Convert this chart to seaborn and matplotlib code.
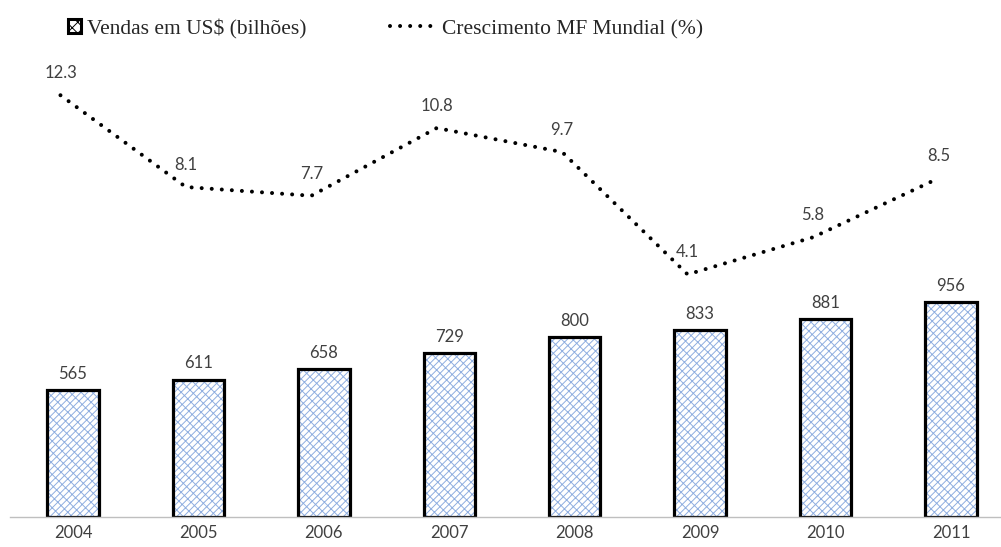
import numpy as np
import pandas as pd
import matplotlib
matplotlib.use("Agg")
import matplotlib.pyplot as plt
import seaborn as sns
from matplotlib.patches import Patch
from matplotlib.lines import Line2D

years = ["2004", "2005", "2006", "2007", "2008", "2009", "2010", "2011"]
sales = [565, 611, 658, 729, 800, 833, 881, 956]
growth = [12.3, 8.1, 7.7, 10.8, 9.7, 4.1, 5.8, 8.5]
legend_sales = "Vendas em US$ (bilhões)"
legend_growth = "Crescimento MF Mundial (%)"

sns.set_theme(style="white")
plt.rcParams["font.family"] = ["Lato", "DejaVu Sans"]
plt.rcParams["hatch.linewidth"] = 0.7

W, H = 1001, 547
fig = plt.figure(figsize=(W / 100, H / 100), dpi=100)
left_px, right_px = 10.3, 1013.7
top_px, bot_px = 60, 517
ax = fig.add_axes([left_px / W, 1 - bot_px / H, (right_px - left_px) / W, (bot_px - top_px) / H])

df = pd.DataFrame({"year": years, "sales": sales})
hatch_col = "#8FAEE0"
sns.barplot(data=df, x="year", y="sales", ax=ax, color="white", saturation=1,
            width=0.41, edgecolor=hatch_col, linewidth=0, hatch="/" * 5 + "\\" * 3)
sns.barplot(data=df, x="year", y="sales", ax=ax, fill=False, saturation=1,
            width=0.41, edgecolor="black", linewidth=2.3, color="black")

ax.set_xlim(-0.5, 7.5)
px_per_unit = 0.2245
ax.set_ylim(0, (bot_px - top_px) / px_per_unit)
ax.bar_label(ax.containers[0], labels=[str(v) for v in sales], padding=6,
             fontsize=12, color="#404040")

ax.set_xlabel("")
ax.set_ylabel("")
ax.set_yticks([])
ax.tick_params(axis="x", length=0, pad=5.5, labelsize=12, labelcolor="#404040")
for s in ["top", "left", "right"]:
    ax.spines[s].set_visible(False)
ax.spines["bottom"].set_color("#BFBFBF")
ax.spines["bottom"].set_linewidth(1.0)

ax2 = ax.twinx()
xline = np.arange(len(years)) - 0.1
ldf = pd.DataFrame({"x": xline, "g": growth})
dot_style = (0, (0.001, 2.5))
sns.lineplot(data=ldf, x="x", y="g", ax=ax2, color="black", linewidth=2.9,
             linestyle=dot_style, dash_capstyle="round")
zero_px, gscale = 364.0, 21.85
ax2.set_ylim(-(bot_px - zero_px) / gscale, (zero_px - top_px) / gscale)
ax2.set_xlim(-0.5, 7.5)
ax2.set_yticks([])
ax2.set_ylabel("")
ax2.set_xlabel("")
for s in ["top", "left", "right", "bottom"]:
    ax2.spines[s].set_visible(False)
for xv, g in zip(xline, growth):
    ax2.annotate(f"{g}", (xv, g), xytext=(0, 16), textcoords="offset points",
                 ha="center", va="center", fontsize=12, color="#404040")

h1 = Patch(facecolor="white", edgecolor="black", linewidth=2.2, hatch="xxx")
h2 = Line2D([0], [0], color="black", linewidth=2.9, linestyle=dot_style,
            dash_capstyle="round")
serif = ["Liberation Serif", "DejaVu Serif"]
fig.legend([h1], [legend_sales], loc="center left", bbox_to_anchor=(68 / W, 1 - 29 / H),
           frameon=False, borderpad=0, borderaxespad=0, handlelength=0.62,
           handleheight=0.62, handletextpad=0.25, prop={"family": serif, "size": 15.5})
fig.legend([h2], [legend_growth], loc="center left", bbox_to_anchor=(390 / W, 1 - 29 / H),
           frameon=False, borderpad=0, borderaxespad=0, handlelength=2.05,
           handletextpad=0.35, prop={"family": serif, "size": 15.5})

fig.savefig("out.png", dpi=100)
